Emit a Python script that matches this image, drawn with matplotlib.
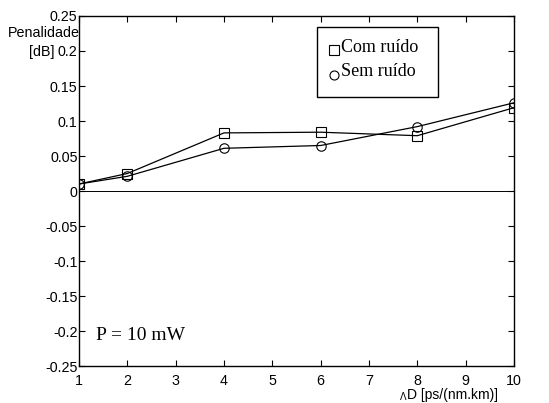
import numpy as np
import matplotlib.pyplot as plt

x = np.array([1, 2, 4, 6, 8, 10])
com_ruido = np.array([0.010, 0.025, 0.083, 0.084, 0.079, 0.119])
sem_ruido = np.array([0.010, 0.021, 0.061, 0.065, 0.092, 0.126])

fig = plt.figure(figsize=(5.49, 4.03), dpi=100)
ax = fig.add_axes([0.1439, 0.0918, 0.7923, 0.8685])

ax.plot(x, com_ruido, color='black', lw=0.9, marker='s', ms=6.8, mfc='none', mec='black', mew=0.8)
ax.plot(x, sem_ruido, color='black', lw=0.9, marker='o', ms=6.8, mfc='none', mec='black', mew=0.8)
ax.axhline(0, color='black', lw=0.7)

ax.set_xlim(1, 10)
ax.set_ylim(-0.25, 0.25)
ax.set_xticks(np.arange(1, 11))
ax.set_yticks(np.arange(-0.25, 0.26, 0.05))
ax.set_yticklabels(['-0.25', '-0.2', '-0.15', '-0.1', '-0.05', '0',
                    '0.05', '0.1', '0.15', '0.2', '0.25'])
ax.tick_params(direction='in', top=True, right=True, length=4, width=0.8,
               labelsize=10.3)
ax.tick_params(axis='x', pad=6)
ax.tick_params(axis='y', pad=1)
for lbl in ax.get_xticklabels() + ax.get_yticklabels():
    lbl.set_family('Liberation Sans')
for s in ax.spines.values():
    s.set_linewidth(1.0)

# y label at top-left
fig.text(80 / 549, 1 - 33 / 403, 'Penalidade', ha='right', va='center',
         fontsize=10.3, family='Liberation Sans')
fig.text(54 / 549, 1 - 52 / 403, '[dB]', ha='right', va='center',
         fontsize=10.3, family='Liberation Sans')

# x label at bottom-right
fig.text(400 / 549, 1 - 397 / 403, 'Λ', ha='left', va='center',
         fontsize=7, family='Liberation Sans')
fig.text(407 / 549, 1 - 395 / 403, 'D [ps/(nm.km)]', ha='left', va='center',
         fontsize=10, family='Liberation Sans')

ax.text(96 / 549, 1 - 336 / 403, 'P = 10 mW', transform=fig.transFigure,
        ha='left', va='center', fontsize=14, family='Liberation Serif')

# legend box
bx0, by0, bx1, by1 = 317 / 549, 1 - 97 / 403, 438 / 549, 1 - 27 / 403
fig.patches.append(plt.Rectangle((bx0, by0), bx1 - bx0, by1 - by0,
                                 transform=fig.transFigure, fill=False,
                                 ec='black', lw=1.0))
fig.lines.append(plt.Line2D([334 / 549], [1 - 50 / 403], marker='s', ms=6.5,
                            mfc='none', mec='black', mew=0.8,
                            transform=fig.transFigure))
fig.lines.append(plt.Line2D([334 / 549], [1 - 75 / 403], marker='o', ms=6.5,
                            mfc='none', mec='black', mew=0.8,
                            transform=fig.transFigure))
fig.text(341 / 549, 1 - 48 / 403, 'Com ruído', ha='left', va='center',
         fontsize=13, family='Liberation Serif')
fig.text(341 / 549, 1 - 72 / 403, 'Sem ruído', ha='left', va='center',
         fontsize=13, family='Liberation Serif')

fig.savefig('out.png', dpi=100)
